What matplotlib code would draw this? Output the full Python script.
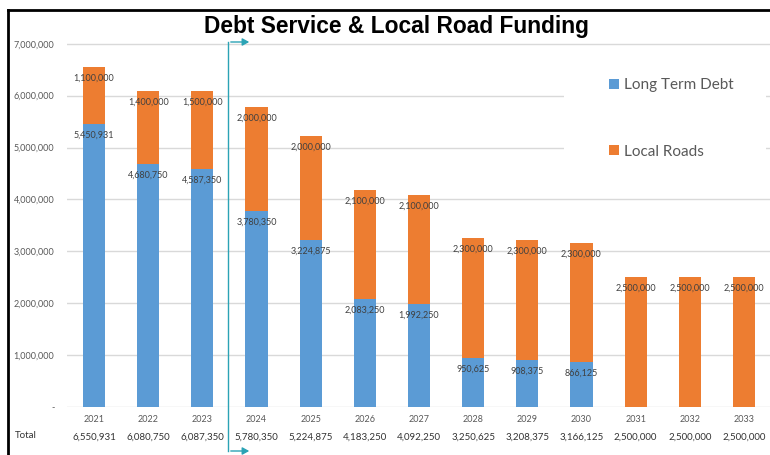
import matplotlib
matplotlib.use("Agg")
import matplotlib.pyplot as plt
from matplotlib.patches import Patch, Rectangle, FancyArrowPatch
import numpy as np

# Annual values
years = ["2021", "2022", "2023", "2024", "2025", "2026", "2027",
         "2028", "2029", "2030", "2031", "2032", "2033"]
long_term_debt = [5450931, 4680750, 4587350, 3780350, 3224875, 2083250, 1992250,
                  950625, 908375, 866125, 0, 0, 0]
local_roads = [1100000, 1400000, 1500000, 2000000, 2000000, 2100000, 2100000,
               2300000, 2300000, 2300000, 2500000, 2500000, 2500000]
y_ticks = [0, 1000000, 2000000, 3000000, 4000000, 5000000, 6000000, 7000000]

BLUE = "#5B9BD5"
ORANGE = "#ED7D31"
GRID = "#D9D9D9"
TXT = "#595959"
LBL = "#404040"
TEAL = "#2BA3B5"
LABEL_FONT = ["Lato", "DejaVu Sans"]

W, H = 770, 455
fig = plt.figure(figsize=(W / 100, H / 100), dpi=100)
fig.patch.set_facecolor("white")

# Axes placed in pixel terms: x from 67 to 771, zero line at y=407
ax_left, ax_right = 67, 771
y0_px, per_million = 407, 51.9
ymax = 7.05e6
ax_top_px = y0_px - ymax / 1e6 * per_million
ax = fig.add_axes([ax_left / W, 1 - y0_px / H, (ax_right - ax_left) / W,
                   (y0_px - ax_top_px) / H])

x = np.arange(len(years))
debt = np.array(long_term_debt)
roads = np.array(local_roads)
totals = debt + roads

bw = 0.41
ax.bar(x, debt, width=bw, color=BLUE, zorder=2)
ax.bar(x, roads, width=bw, bottom=debt, color=ORANGE, zorder=2)

ax.set_xlim(-0.5, len(years) - 0.5)
ax.set_ylim(0, ymax)
ax.set_yticks(y_ticks)
ax.set_yticklabels(["-" if v == 0 else f"{v:,}" for v in y_ticks],
                   fontsize=6.5, color=TXT, family=LABEL_FONT)
ax.set_xticks(x)
ax.set_xticklabels(years, fontsize=6.5, color=TXT, family=LABEL_FONT)
ax.tick_params(axis="y", length=0, pad=9)
ax.tick_params(axis="x", length=0, pad=6)
ax.yaxis.grid(True, color=GRID, linewidth=1.0, zorder=0)
ax.set_axisbelow(True)
for s in ax.spines.values():
    s.set_visible(False)

# Data labels just inside the top of each segment
for xi, d, r in zip(x, debt, roads):
    if d > 0:
        ax.annotate(f"{d:,}", (xi, d), xytext=(0, -8), textcoords="offset points",
                    ha="center", va="center", fontsize=6.5, color=LBL, family=LABEL_FONT,
                    zorder=3)
    ax.annotate(f"{r:,}", (xi, d + r), xytext=(0, -8), textcoords="offset points",
                ha="center", va="center", fontsize=6.5, color=LBL, family=LABEL_FONT,
                zorder=3)

# Totals row under the axis
for xi, t in zip(x, totals):
    ax.annotate(f"{t:,}", (xi, 0), xytext=(0, -22), textcoords="offset points",
                ha="center", va="center", fontsize=7, color="#333333",
                family=LABEL_FONT, annotation_clip=False)
fig.text(15 / W, 1 - 436 / H, "Total", fontsize=7, color="#333333",
         family=LABEL_FONT, ha="left", va="center")

# Title
fig.text(396 / W, 1 - 27 / H, "Debt Service & Local Road Funding",
         fontsize=16.4, fontweight="bold", family=["Liberation Sans", "DejaVu Sans"],
         ha="center", va="center", color="black")

# Legend area: opaque white panel over the gridlines
fig.add_artist(Rectangle((564 / W, 1 - 188 / H), (766 - 564) / W, (188 - 52) / H,
                         transform=fig.transFigure, facecolor="white",
                         edgecolor="none", zorder=1))
handles = [Patch(facecolor=BLUE, edgecolor="none"),
           Patch(facecolor=ORANGE, edgecolor="none")]
leg = fig.legend(handles, ["Long Term Debt", "Local Roads"],
                 loc="upper left", bbox_to_anchor=(609 / W, 1 - 78 / H),
                 prop={"family": LABEL_FONT, "size": 11},
                 labelcolor=TXT, frameon=False,
                 handlelength=0.65, handleheight=0.65, handletextpad=0.3,
                 labelspacing=3.45, borderpad=0, borderaxespad=0)
leg.set_zorder(2)

# Projection marker: bracket line between 2023 and 2024 with arrow heads
tx = 228 / W
fig.add_artist(plt.Line2D([tx, tx], [1 - 42 / H, 1 - 451 / H],
                          transform=fig.transFigure, color=TEAL, linewidth=1.0))
for yp in (42, 451):
    fig.add_artist(FancyArrowPatch(
        (tx, 1 - yp / H), (252 / W, 1 - yp / H), transform=fig.transFigure,
        arrowstyle="-|>,head_length=4,head_width=2.2", color=TEAL, linewidth=1.0,
        mutation_scale=1))

# Frame lines at top and left
fig.add_artist(plt.Line2D([8 / W, 1], [1 - 9.5 / H, 1 - 9.5 / H],
                          transform=fig.transFigure, color="black", linewidth=2.0))
fig.add_artist(plt.Line2D([8 / W, 8 / W], [1 - 9.5 / H, 0],
                          transform=fig.transFigure, color="black", linewidth=2.0))

fig.savefig("out.png", dpi=100, facecolor="white")
